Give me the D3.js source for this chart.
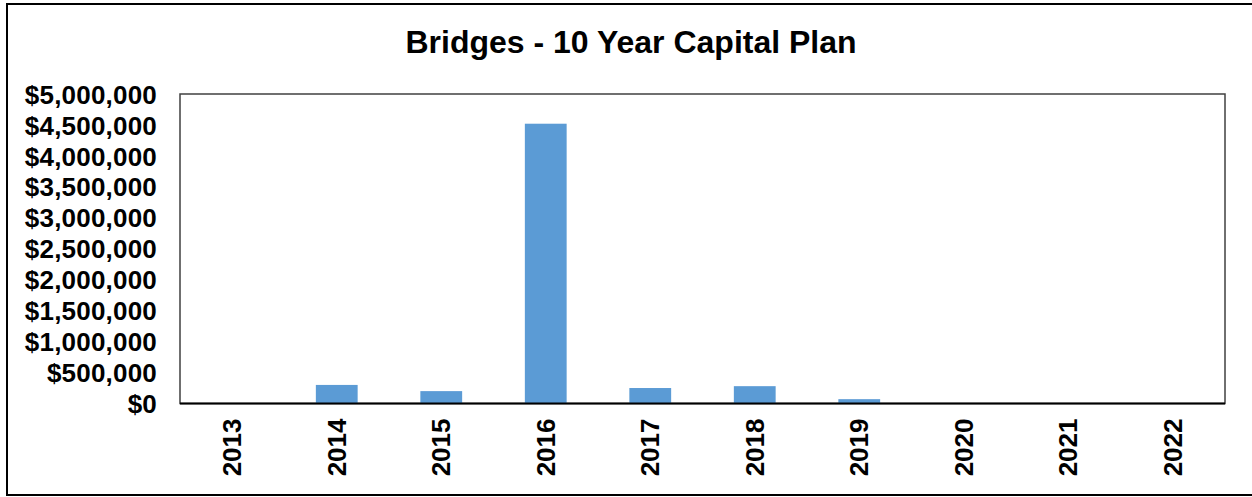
<!DOCTYPE html>
<html>
<head>
<meta charset="utf-8">
<script src="https://cdn.jsdelivr.net/npm/d3@7"></script>
<style>
  html, body { margin: 0; padding: 0; background: #fff; }
  svg { display: block; }
  text { font-family: Arial, "Liberation Sans", sans-serif; font-weight: bold; fill: #000; }
</style>
</head>
<body>
<svg id="chart" width="1252" height="497"></svg>
<script>
const title = "Bridges - 10 Year Capital Plan";
const categories = ["2013","2014","2015","2016","2017","2018","2019","2020","2021","2022"];
const values = [0, 300000, 200000, 4520000, 250000, 280000, 70000, 0, 0, 0];
const yTicks = [0, 500000, 1000000, 1500000, 2000000, 2500000, 3000000, 3500000, 4000000, 4500000, 5000000];

const svg = d3.select("#chart");
const W = 1252, H = 497;
const plot = { left: 180, right: 1225, top: 94, bottom: 403.5 };

svg.append("rect").attr("width", W).attr("height", H).attr("fill", "#fff");
// outer chart frame (cut off at right)
svg.append("rect")
  .attr("x", 7).attr("y", 4).attr("width", 1260).attr("height", 491)
  .attr("fill", "none").attr("stroke", "#000").attr("stroke-width", 2);

svg.append("text")
  .attr("x", 631).attr("y", 53)
  .attr("text-anchor", "middle")
  .style("font-size", "32px")
  .text(title);

const xc = d3.scaleBand().domain(categories).range([plot.left, plot.right]);
const y = d3.scaleLinear().domain([0, 5000000]).range([plot.bottom, plot.top]);

// plot area border
svg.append("rect")
  .attr("x", plot.left).attr("y", plot.top)
  .attr("width", plot.right - plot.left).attr("height", plot.bottom - plot.top)
  .attr("fill", "none").attr("stroke", "#404040").attr("stroke-width", 1.5);

// bars
svg.append("g").selectAll("rect").data(categories).join("rect")
  .attr("x", (d) => xc(d) + xc.bandwidth() * 0.3)
  .attr("width", xc.bandwidth() * 0.4)
  .attr("y", (d, i) => y(values[i]))
  .attr("height", (d, i) => y(0) - y(values[i]))
  .attr("fill", "#5B9BD5");

// x baseline
svg.append("line")
  .attr("x1", plot.left).attr("x2", plot.right)
  .attr("y1", y(0)).attr("y2", y(0))
  .attr("stroke", "#000").attr("stroke-width", 2);

// y axis labels
const fmt = (v) => "$" + d3.format(",")(v);
const yAxis = d3.axisLeft(y).tickValues(yTicks).tickFormat(fmt).tickSize(0).tickPadding(0);
const gy = svg.append("g").attr("transform", "translate(157,0)").call(yAxis);
gy.select(".domain").remove();
gy.selectAll("text")
  .style("font-size", "26px").style("font-family", "Arial, 'Liberation Sans', sans-serif")
  .style("font-weight", "bold").style("letter-spacing", "0.2px")
  .attr("fill", "#000").attr("dy", "0.35em");

// x axis labels (rotated)
const xAxis = d3.axisBottom(xc).tickSize(0).tickPadding(0);
const gx = svg.append("g").attr("transform", `translate(0,${plot.bottom})`).call(xAxis);
gx.select(".domain").remove();
gx.selectAll("text")
  .style("font-size", "26px").style("font-family", "Arial, 'Liberation Sans', sans-serif")
  .style("font-weight", "bold").attr("fill", "#000")
  .attr("text-anchor", "end")
  .attr("transform", "translate(0,15) rotate(-90)")
  .attr("x", 0).attr("y", 0).attr("dy", "0.35em");
</script>
</body>
</html>
